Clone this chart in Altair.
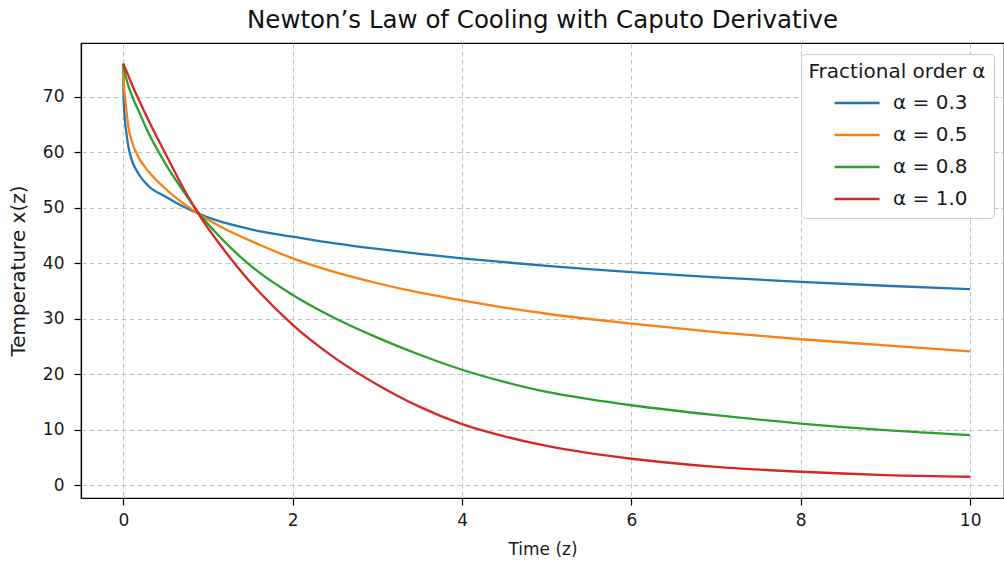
import altair as alt
import pandas as pd

# Time grid (z) and temperature readings for each fractional order
z_vals = [0, 0.002, 0.01, 0.03, 0.06, 0.1, 0.18, 0.3, 0.5, 0.7, 0.9, 1.15, 1.35,
          1.6, 2.0, 2.5, 3.0, 3.5, 4.0, 4.5, 5.0, 5.5, 6.0, 7.0, 8.0, 9.0, 10.0]

alpha_03 = [76, 70.5, 67.5, 64.3, 61.0, 58.6, 56.1, 53.9, 52.0, 50.3, 48.9, 47.5, 46.7,
            45.8, 44.8, 43.6, 42.6, 41.7, 40.9, 40.2, 39.55, 38.95, 38.4, 37.45, 36.65, 35.95, 35.35]
alpha_05 = [76, 74.0, 71.5, 68.5, 64.6, 62.0, 59.1, 56.5, 53.4, 50.9, 48.8, 46.6, 45.1,
            43.4, 40.9, 38.4, 36.4, 34.7, 33.3, 32.0, 30.9, 29.95, 29.1, 27.6, 26.3, 25.2, 24.1]
alpha_08 = [76, 75.7, 75.0, 73.6, 72.0, 70.3, 67.5, 63.4, 57.9, 53.2, 48.9, 44.6, 41.6,
            38.4, 34.3, 30.1, 26.6, 23.5, 20.8, 18.6, 16.8, 15.5, 14.4, 12.6, 11.1, 9.9, 9.0]
alpha_10 = [76, 75.9, 75.6, 74.9, 73.8, 72.3, 69.6, 65.7, 59.7, 53.8, 48.6, 43.2, 39.3,
            34.9, 28.9, 22.9, 18.1, 14.1, 11.0, 8.8, 7.05, 5.75, 4.75, 3.3, 2.4, 1.8, 1.5]

series_labels = ["α = 0.3", "α = 0.5", "α = 0.8", "α = 1.0"]
series_values = [alpha_03, alpha_05, alpha_08, alpha_10]
series_colors = ["#1f77b4", "#ff7f0e", "#2ca02c", "#d62728"]

x_ticks = [0, 2, 4, 6, 8, 10]
y_ticks = [0, 10, 20, 30, 40, 50, 60, 70]

rows = []
for lab, vals in zip(series_labels, series_values):
    for z, v in zip(z_vals, vals):
        rows.append({"z": z, "temp": v, "order": lab})
df = pd.DataFrame(rows)

FONT = "DejaVu Sans"

chart = alt.Chart(df).mark_line(strokeWidth=2.3, interpolate="monotone", clip=True).encode(
    x=alt.X("z:Q", title="Time (z)",
            scale=alt.Scale(domain=[-0.5, 10.4], nice=False, zero=False),
            axis=alt.Axis(values=x_ticks, format="d", labelPadding=7, titlePadding=13)),
    y=alt.Y("temp:Q", title="Temperature x(z)",
            scale=alt.Scale(domain=[-2.33, 79.73], nice=False, zero=False),
            axis=alt.Axis(values=y_ticks, format="d", labelPadding=10,
                          titlePadding=14, titleFontSize=20)),
    color=alt.Color("order:N", sort=series_labels,
                    scale=alt.Scale(domain=series_labels, range=series_colors),
                    legend=alt.Legend(title="Fractional order α", orient="none",
                                      legendX=720, legendY=11)),
).properties(
    width=923, height=455,
    title=alt.Title("Newton’s Law of Cooling with Caputo Derivative",
                    fontSize=24.5, font=FONT, fontWeight="normal", color="#111",
                    offset=10, anchor="middle"),
    autosize=alt.AutoSizeParams(type="none"),
    padding={"left": 81, "top": 43, "right": 0, "bottom": 63},
).configure_view(
    stroke="black", strokeWidth=1.2
).configure_axis(
    labelFont=FONT, titleFont=FONT, labelFontSize=17, titleFontSize=17,
    titleFontWeight="normal", labelColor="#1a1a1a", titleColor="#1a1a1a",
    domainColor="black", domainWidth=1.2, tickColor="black", tickSize=7, tickWidth=1.2,
    grid=True, gridColor="#c4c4c4", gridDash=[5, 3], gridWidth=1
).configure_legend(
    titleFont=FONT, labelFont=FONT, titleFontSize=20, labelFontSize=20,
    titleFontWeight="normal", titleColor="#1a1a1a", labelColor="#1a1a1a",
    symbolType="stroke", symbolSize=2025, symbolStrokeWidth=2.3,
    symbolOffset=7, labelOffset=12, clipHeight=22,
    fillColor="white", strokeColor="#cccccc", cornerRadius=4, padding=8,
    rowPadding=10, titlePadding=10, titleAnchor="middle"
)

chart.save("out.html", embed_options={"renderer": "svg", "actions": False})
